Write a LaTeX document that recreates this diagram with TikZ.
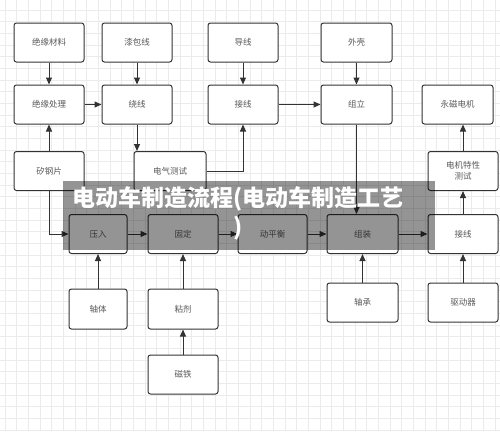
\documentclass[tikz,border=0pt]{standalone}
\usepackage{fontspec}
\newfontfamily\cjk{Noto Sans CJK SC}
\usetikzlibrary{arrows.meta}

\begin{document}
\begin{tikzpicture}[
            x=1pt, y=-1pt,
            box/.style = {shape=rectangle, rounded corners=2.5pt, draw=black!80, line width=1pt, fill=white, align=center,
                          minimum width=70pt, minimum height=39pt, inner sep=1pt, text=black!65, font=\cjk\fontsize{8.5}{10.5}\selectfont},
            narrow/.style = {box, minimum width=58pt},
            flow/.style = {-{Triangle[length=7pt,width=6pt]}, line width=1pt, draw=black!80},
            gridline/.style = {draw=black!8, line width=0.6pt}
        ]
        \useasboundingbox (0,0) rectangle (500,431);
        \fill[white] (0,0) rectangle (500,431);
        % background grid
        \foreach \gx in {4.9,16.57,...,500} \draw[gridline] (\gx,0) -- (\gx,431);
        \foreach \gy in {10,21.67,...,431} \draw[gridline] (0,\gy) -- (500,\gy);

        % top row
        \node[box] (jycl) at (49,42.5) {绝缘材料};
        \node[box] (qbx) at (137,42.5) {漆包线};
        \node[box] (dx) at (243,42.5) {导线};
        \node[box, minimum width=71pt] (wk) at (356.5,42.5) {外壳};
        % second row
        \node[box] (jycli) at (49,104.5) {绝缘处理};
        \node[box] (rx) at (137,104.5) {绕线};
        \node[box] (jxa) at (243,104.5) {接线};
        \node[box, minimum width=71pt] (zl) at (356.5,104.5) {组立};
        \node[box, minimum width=71pt] (ymdj) at (457.5,104.5) {永磁电机};
        % third row
        \node[box] (ggp) at (49,171) {矽钢片};
        \node[box, minimum width=72pt] (dqcs) at (170,171) {电气测试};
        \node[box] (djcs) at (463,171) {电机特性\\测试};
        % main line
        \node[narrow] (yr) at (98,234) {压入};
        \node[box] (gd) at (183,234) {固定};
        \node[box, minimum width=69pt] (dph) at (272.5,234) {动平衡};
        \node[box, minimum width=71pt] (zz) at (362.5,234) {组装};
        \node[box] (jxb) at (463,234) {接线};
        % bottom parts
        \node[narrow, minimum height=40pt] (zt) at (98,309) {轴体};
        \node[box, minimum height=40pt] (nj) at (183,309) {粘剂};
        \node[box] (ct) at (183,374.5) {磁铁};
        \node[box, minimum width=71pt] (zc) at (362.5,302.5) {轴承};
        \node[box] (qdq) at (463,302.5) {驱动器};

        % connectors
        \draw[flow] (jycl) -- (jycli);
        \draw[flow] (qbx) -- (rx);
        \draw[flow] (dx) -- (jxa);
        \draw[flow] (wk) -- (zl);
        \draw[flow] (jycli) -- (rx);
        \draw[flow] (jxa) -- (zl);
        \draw[flow] (ggp) -- (jycli);
        \draw[flow] (rx.south) -- (rx.south |- dqcs.north);
        \draw[flow] (dqcs.east) -| (jxa.south);
        \draw[flow] (ggp.south) |- (yr.west);
        \draw[flow] (zl.south) -- (zl.south |- zz.north);
        \draw[flow] (yr) -- (gd);
        \draw[flow] (gd) -- (dph);
        \draw[flow] (dph) -- (zz);
        \draw[flow] (zz) -- (jxb);
        \draw[flow] (jxb) -- (djcs);
        \draw[flow] (djcs.north) -- (djcs.north |- ymdj.south);
        \draw[flow] (zt) -- (yr);
        \draw[flow] (nj) -- (gd);
        \draw[flow] (ct) -- (nj);
        \draw[flow] (zc) -- (zz);
        \draw[flow] (qdq) -- (jxb);

        % caption band
        \fill[black, opacity=0.42] (63,181) rectangle (435,250);
        \node[align=center, text=white, font=\cjk\bfseries\fontsize{23}{29}\selectfont] (title) at (238,213.5)
            {电动车制造流程(电动车制造工艺\\)};
    \end{tikzpicture}
\end{document}
